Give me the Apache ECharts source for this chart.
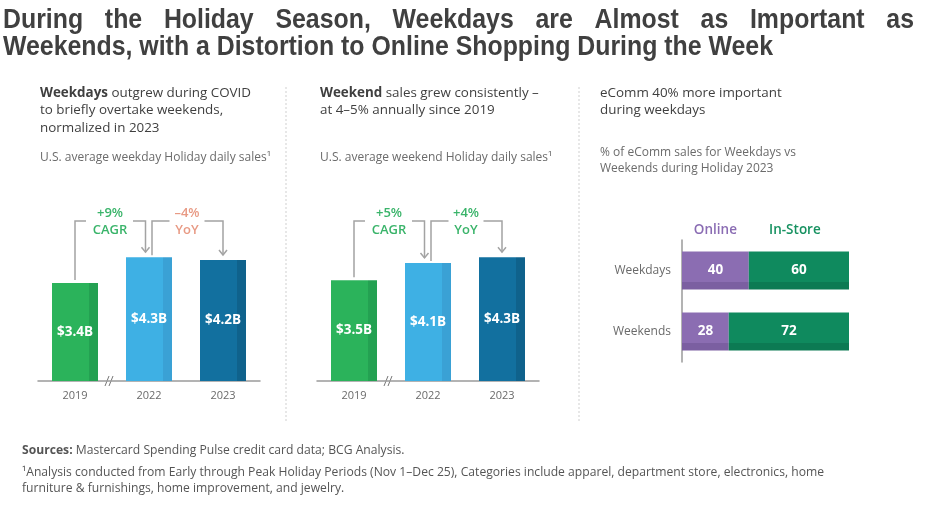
<!DOCTYPE html>
<html><head><meta charset="utf-8">
<script src="https://cdn.jsdelivr.net/npm/echarts@6/dist/echarts.min.js"></script>
<style>html,body{margin:0;padding:0;background:#fff}#c{width:928px;height:506px}</style>
</head><body><div id="c"></div>
<script>
// ---------------- data ----------------
const years = ['2019', '2022', '2023'];
const weekdaySales = [3.4, 4.3, 4.2];
const weekendSales = [3.5, 4.1, 4.3];
const mixCategories = ['Weekdays', 'Weekends'];
const onlineShare = [40, 28];
const inStoreShare = [60, 72];
const weekdayAnnotations = [['+9%', 'CAGR'], ['\u20134%', 'YoY']];
const weekendAnnotations = [['+5%', 'CAGR'], ['+4%', 'YoY']];
const titleLine1 = 'During the Holiday Season, Weekdays are Almost as Important as';
const titleLine2 = 'Weekends, with a Distortion to Online Shopping During the Week';

// ---------------- styles ----------------
const BODY = "'Open Sans','Noto Sans',sans-serif";
const TITLEFONT = "'Liberation Sans',Arial,sans-serif";
const GREEN_TXT = '#3ab46a', SALMON_TXT = '#e89a84';
const yearColors = [['#2bb35b', '#24a152'], ['#3eb0e4', '#3aa1d5'], ['#12709f', '#0f628c']];
const LINE = '#a3a3a3';

const ctx = document.createElement('canvas').getContext('2d');
function tw(text, font) { ctx.font = font; return ctx.measureText(text).width; }
function split(c, d, horiz) {
  return new echarts.graphic.LinearGradient(0, 0, horiz ? 1 : 0, horiz ? 0 : 1, [
    { offset: 0, color: c }, { offset: 0.81, color: c }, { offset: 0.81, color: d }, { offset: 1, color: d }]);
}

const chart = echarts.init(document.getElementById('c'));

function salesSeries(idx, vals) {
  return {
    type: 'bar', xAxisIndex: idx, yAxisIndex: idx, barWidth: 46, silent: true,
    data: vals.map((v, i) => ({ value: v, itemStyle: { color: split(yearColors[i][0], yearColors[i][1], true) } })),
    label: { show: true, position: 'inside', formatter: p => '$' + p.value.toFixed(1) + 'B',
      color: '#fff', fontSize: 13.5, fontWeight: 'bold', fontFamily: BODY }
  };
}
function catAxis(idx) {
  return { type: 'category', gridIndex: idx, data: years,
    axisLine: { lineStyle: { color: '#9a9a9a', width: 1.5 } }, axisTick: { show: false },
    axisLabel: { color: '#6a6a6a', fontSize: 11, margin: 9, fontFamily: BODY } };
}
const mixLabel = { show: true, position: 'inside', color: '#fff', fontSize: 13.5, fontWeight: 'bold', fontFamily: BODY };

chart.setOption({
  backgroundColor: '#fff',
  animation: false,
  grid: [
    { left: 38, width: 222, top: 237, height: 144, outerBoundsMode: 'none' },
    { left: 317, width: 222, top: 237, height: 144, outerBoundsMode: 'none' },
    { left: 682, width: 167, top: 240, height: 122, outerBoundsMode: 'none' }
  ],
  xAxis: [catAxis(0), catAxis(1), { type: 'value', gridIndex: 2, min: 0, max: 100, show: false }],
  yAxis: [
    { type: 'value', gridIndex: 0, min: 0, max: 5, show: false },
    { type: 'value', gridIndex: 1, min: 0, max: 5, show: false },
    { type: 'category', gridIndex: 2, data: mixCategories, inverse: true,
      axisLine: { show: true, lineStyle: { color: '#9a9a9a', width: 1.5 } }, axisTick: { show: false },
      axisLabel: { color: '#6a6a6a', fontSize: 12, margin: 11, fontFamily: BODY } }
  ],
  series: [
    salesSeries(0, weekdaySales),
    salesSeries(1, weekendSales),
    { type: 'bar', name: 'Online', stack: 'mix', xAxisIndex: 2, yAxisIndex: 2, barWidth: 38, silent: true,
      data: onlineShare, itemStyle: { color: split('#8b6db2', '#7b5fa1', false) }, label: mixLabel },
    { type: 'bar', name: 'In-Store', stack: 'mix', xAxisIndex: 2, yAxisIndex: 2, barWidth: 38, silent: true,
      data: inStoreShare, itemStyle: { color: split('#0f8a5e', '#0c7a53', false) }, label: mixLabel }
  ]
});

// ---------------- graphics ----------------
const g = [];
function text(x, y, str, opt, extra) {
  g.push(Object.assign({ type: 'text', x: x, y: y, silent: true,
    style: Object.assign({ text: str, fill: '#3f3f3f', fontFamily: BODY, fontSize: 13 }, opt || {}) }, extra || {}));
}
function poly(pts, opt) {
  g.push({ type: 'polyline', silent: true, shape: { points: pts },
    style: Object.assign({ stroke: LINE, lineWidth: 1.5, fill: null }, opt || {}) });
}

// title (first line justified), Arial-like bold squeezed horizontally
const TF = "bold 27px " + TITLEFONT;
const sx = 770 / tw(titleLine2, TF);
const words = titleLine1.split(' ');
const ww = words.map(w => tw(w, TF) * sx);
const gap = (914 - 3 - ww.reduce((a, b) => a + b, 0)) / (words.length - 1);
let cx = 3;
words.forEach((w, i) => {
  g.push({ type: 'text', x: cx, y: 21, scaleX: sx, silent: true,
    style: { text: w, font: TF, fill: '#404040', verticalAlign: 'middle' } });
  cx += ww[i] + gap;
});
g.push({ type: 'text', x: 3, y: 48, scaleX: sx, silent: true,
  style: { text: titleLine2, font: TF, fill: '#404040', verticalAlign: 'middle' } });

// dividers
[286, 579].forEach(x => g.push({ type: 'line', silent: true, shape: { x1: x, y1: 87, x2: x, y2: 422 },
  style: { stroke: '#cfcfcf', lineWidth: 1, lineDash: [2, 2] } }));

// panel headers
const HS = 13.4;
const hdrRich = {
  b: { fontWeight: 'bold', fontFamily: BODY, fontSize: HS, fill: '#3f3f3f', lineHeight: 17.5 },
  n: { fontFamily: BODY, fontSize: HS, fill: '#3f3f3f', lineHeight: 17.5 }
};
function header(x, str) {
  g.push({ type: 'text', x: x, y: 84, silent: true,
    style: { text: str, rich: hdrRich, fontFamily: BODY, fontSize: HS, fill: '#3f3f3f', lineHeight: 17.5 } });
}
header(40, '{b|Weekdays}{n| outgrew during COVID}\n{n|to briefly overtake weekends,}\n{n|normalized in 2023}');
header(320, '{b|Weekend}{n| sales grew consistently \u2013}\n{n|at 4\u20135% annually since 2019}');
header(600, '{n|eComm 40% more important}\n{n|during weekdays}');

const subStyle = { fontSize: 12, fill: '#6b6b6b', verticalAlign: 'middle', lineHeight: 16 };
text(40, 158, 'U.S. average weekday Holiday daily sales\u00b9', subStyle);
text(320, 158, 'U.S. average weekend Holiday daily sales\u00b9', subStyle);
text(600, 161, '% of eComm sales for Weekdays vs\nWeekends during Holiday 2023', subStyle);

// brackets
function px(gi, x, y) { return chart.convertToPixel({ gridIndex: gi }, [x, y]); }
function arrow(x, y) { poly([[x - 4, y - 5], [x, y], [x + 4, y - 5]]); }
function brackets(gi, vals, ann, colors) {
  const p = years.map((yr, i) => px(gi, yr, vals[i]));
  const base = px(gi, years[0], 0);
  const topY = base[1] - 160;
  const x0 = p[0][0], x1 = p[1][0] - 3.5, tcA = (p[0][0] + p[1][0]) / 2 - 2;
  poly([[x0, p[0][1] - 3], [x0, topY], [tcA - 24, topY]]);
  poly([[tcA + 23, topY], [x1, topY], [x1, p[1][1] - 5]]);
  arrow(x1, p[1][1] - 5);
  const x2 = p[1][0] + 3, x3 = p[2][0], tcB = (p[1][0] + p[2][0]) / 2 + 1;
  poly([[x2, p[1][1] - 2], [x2, topY], [tcB - 17.5, topY]]);
  poly([[tcB + 17.5, topY], [x3, topY], [x3, p[2][1] - 5]]);
  arrow(x3, p[2][1] - 5);
  const ts = (c) => ({ fontSize: 13, fontWeight: 600, fill: c, align: 'center', verticalAlign: 'middle' });
  text(tcA, topY - 7.5, ann[0][0], ts(colors[0]));
  text(tcA, topY + 9.5, ann[0][1], ts(colors[0]));
  text(tcB, topY - 7.5, ann[1][0], ts(colors[1]));
  text(tcB, topY + 9.5, ann[1][1], ts(colors[1]));
  const xb = (p[0][0] + p[1][0]) / 2 - 2, yb = base[1];
  poly([[xb - 5, yb + 5], [xb - 1, yb - 5]], { stroke: '#777', lineWidth: 1 });
  poly([[xb - 1, yb + 5], [xb + 3, yb - 5]], { stroke: '#777', lineWidth: 1 });
}
brackets(0, weekdaySales, weekdayAnnotations, [GREEN_TXT, SALMON_TXT]);
brackets(1, weekendSales, weekendAnnotations, [GREEN_TXT, GREEN_TXT]);

// mix legend labels
const on = px(2, onlineShare[0] / 2, mixCategories[0]);
const ins = px(2, onlineShare[0] + inStoreShare[0] / 2, mixCategories[0]);
const legY = px(2, 0, mixCategories[0])[1] - 40;
text(on[0], legY, 'Online', { fontSize: 13.5, fontWeight: 600, fill: '#8a6cb3', align: 'center', verticalAlign: 'middle' });
text(ins[0] - 4, legY, 'In-Store', { fontSize: 13.5, fontWeight: 600, fill: '#169160', align: 'center', verticalAlign: 'middle' });

// footer (condensed)
const foot1 = '\u00b9Analysis conducted from Early through Peak Holiday Periods (Nov 1\u2013Dec 25), Categories include apparel, department store, electronics, home';
const foot2 = 'furniture & furnishings, home improvement, and jewelry.';
const FS = 12.5;
const fsx = 802 / tw(foot1, FS + 'px ' + BODY);
const footStyle = { fontFamily: BODY, fontSize: FS, fill: '#555', verticalAlign: 'middle' };
g.push({ type: 'text', x: 22, y: 450, scaleX: fsx, silent: true, style: {
  text: '{b|Sources:}{n| Mastercard Spending Pulse credit card data; BCG Analysis.}',
  fontFamily: BODY, fontSize: FS, fill: '#555', verticalAlign: 'middle',
  rich: { b: { fontFamily: BODY, fontSize: FS, fontWeight: 'bold', fill: '#555' },
          n: { fontFamily: BODY, fontSize: FS, fill: '#555' } } } });
text(22, 472, foot1, footStyle, { scaleX: fsx });
text(22, 488, foot2, footStyle, { scaleX: fsx });

chart.setOption({ graphic: { elements: g } });
</script></body></html>
